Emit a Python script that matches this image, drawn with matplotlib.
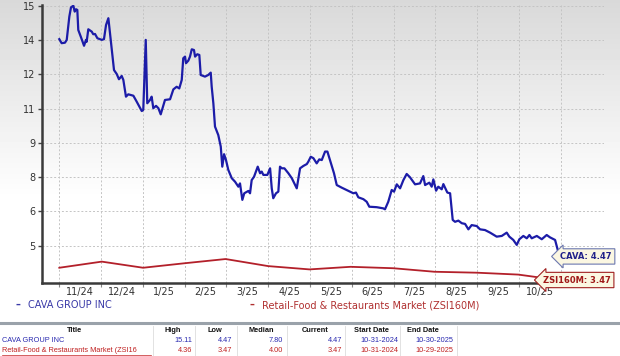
import numpy as np
import matplotlib
matplotlib.use("Agg")
import matplotlib.pyplot as plt

# CAVA P/S style series, x = days since 2024-10-31
cava_day = [0, 1.7, 4.1, 5.4, 7.3, 8.5, 10.2, 11.2, 12.2, 13.1, 13.8, 15.6, 18.0, 19.4, 19.9,
            21.1, 23.6, 24.7, 26.0, 27.7, 30.9, 32.5, 34.0, 35.7, 36.9, 39.8, 41.8, 43.4, 45.4,
            46.6, 48.5, 50.2, 53.9, 56.3, 60.0, 61.1, 62.9, 64.0, 66.0, 67.2, 68.4, 70.4, 72.1,
            73.8, 76.9, 80.6, 83.0, 85.4, 87.3, 89.1, 90.2, 91.5, 92.2, 93.9, 95.1, 96.4, 98.0,
            98.8, 100.4, 101.9, 102.9, 106.0, 108.4, 110.2, 110.9, 112.1, 113.3, 115.7, 117.5,
            118.6, 119.9, 121.3, 123.0, 125.5, 127.9, 130.3, 131.5, 133.2, 134.6, 137.6, 138.8,
            140.0, 141.7, 144.4, 146.1, 147.3, 148.5, 151.4, 153.4, 154.6, 155.7, 157.7, 159.4,
            160.6, 161.9, 163.8, 166.7, 169.2, 172.8, 175.2, 177.6, 180.1, 181.2, 183.0, 184.9,
            187.3, 189.2, 191.0, 193.4, 195.1, 197.0, 199.9, 201.9, 205.5, 211.6, 214.0, 215.9,
            217.6, 221.3, 223.7, 225.6, 231.0, 235.8, 237.0, 239.4, 241.9, 243.6, 245.6, 248.0,
            250.4, 252.8, 255.2, 258.9, 262.5, 264.9, 266.2, 269.3, 271.0, 272.2, 274.2, 275.8,
            278.3, 279.5, 282.4, 284.4, 286.3, 288.0, 290.4, 292.9, 295.3, 297.7, 300.1, 303.8,
            306.2, 309.8, 313.5, 318.3, 322.0, 325.6, 327.5, 330.4, 332.9, 334.8, 337.7, 340.2,
            342.1, 343.8, 347.5, 351.1, 354.7, 357.1, 360.8, 362.4, 364]
cava_val = [13.69, 13.52, 13.54, 13.66, 14.65, 15.04, 15.11, 14.86, 14.96, 14.93, 14.08, 13.80,
            13.41, 13.66, 13.58, 14.11, 14.01, 13.90, 13.91, 13.73, 13.66, 13.69, 14.29, 14.58,
            13.94, 12.38, 12.21, 11.99, 12.13, 11.96, 11.25, 11.35, 11.29, 11.04, 10.64, 10.69,
            13.66, 10.97, 11.11, 11.25, 10.76, 10.86, 10.76, 10.50, 11.11, 11.14, 11.56, 11.67,
            11.60, 11.96, 12.88, 12.95, 12.67, 12.78, 12.95, 13.26, 13.23, 12.95, 13.05, 13.02,
            12.17, 12.10, 12.17, 12.27, 11.67, 10.97, 9.98, 9.62, 9.13, 8.28, 8.81, 8.56, 8.14,
            7.79, 7.64, 7.43, 7.57, 6.87, 7.15, 7.25, 7.15, 7.71, 7.85, 8.28, 8.00, 8.07, 7.93,
            7.93, 8.21, 7.36, 6.94, 7.15, 7.22, 8.28, 8.21, 8.21, 8.00, 7.79, 7.36, 8.21, 8.31,
            8.39, 8.49, 8.70, 8.64, 8.42, 8.59, 8.56, 8.92, 8.92, 8.56, 8.00, 7.50, 7.39, 7.22,
            7.15, 7.18, 6.98, 6.90, 6.79, 6.58, 6.56, 6.51, 6.47, 6.79, 7.29, 7.22, 7.53, 7.36,
            7.71, 7.97, 7.83, 7.53, 7.57, 7.88, 7.50, 7.60, 7.43, 7.74, 7.26, 7.43, 7.32, 7.54,
            7.18, 7.15, 6.02, 5.94, 5.99, 5.88, 5.85, 5.62, 5.80, 5.76, 5.62, 5.59, 5.48, 5.31,
            5.34, 5.48, 5.31, 5.17, 4.96, 5.20, 5.34, 5.24, 5.38, 5.24, 5.34, 5.20, 5.38, 5.28,
            5.17, 4.82, 4.47]

# Retail-Food & Restaurants Market (ZSI160M), monthly
zsi_day = [0, 30.9, 61, 91, 121, 152, 182, 212, 243, 273, 304, 334, 363]
zsi_val = [3.99, 4.25, 3.99, 4.18, 4.36, 4.06, 3.92, 4.03, 3.97, 3.82, 3.78, 3.70, 3.47]

month_labels = ['11/24', '12/24', '1/25', '2/25', '3/25', '4/25', '5/25',
                '6/25', '7/25', '8/25', '9/25', '10/25']
y_tick_labels = ['5', '6', '8', '9', '11', '12', '14', '15']

table_cols = ['Title', 'High', 'Low', 'Median', 'Current', 'Start Date', 'End Date']
table_rows = [
    ['CAVA GROUP INC', '15.11', '4.47', '7.80', '4.47', '10-31-2024', '10-30-2025'],
    ['Retail-Food & Restaurants Market (ZSI16', '4.36', '3.47', '4.00', '3.47', '10-31-2024', '10-29-2025'],
]

BLUE = '#1c1ca8'
RED = '#b3202a'
W, H = 620, 356


def fx(x):
    return x / W


def fy(y):
    return 1 - y / H


fig = plt.figure(figsize=(6.2, 3.56), dpi=100)

# gradient background
bg = fig.add_axes([0, 0, 1, 1])
grad = np.ones((H, 2))
top = 200
grad[:top, :] = np.linspace(0.85, 1.0, top)[:, None]
bg.imshow(grad, cmap='gray', vmin=0, vmax=1, aspect='auto', extent=[0, 1, 0, 1])
bg.set_axis_off()

ax = fig.add_axes([fx(42), fy(283), fx(604) - fx(42), fy(5) - fy(283)])
ax.patch.set_alpha(0)

ax.plot(zsi_day, zsi_val, color=RED, lw=1.3, zorder=3)
ax.plot(cava_day, cava_val, color=BLUE, lw=1.6, zorder=4)

lo, hi = min(zsi_val), max(cava_val)
step = (hi - lo) / 8
yt = [lo + step * (k + 1) for k in range(8)]
ax.set_yticks(yt)
ax.set_yticklabels(y_tick_labels)
ax.set_ylim(3.343, 15.14)

mlen = 365 / 12
ax.set_xticks([k * mlen for k in range(13)])
ax.set_xticklabels([])
ax.set_xticks([(k + 0.5) * mlen for k in range(12)], minor=True)
ax.set_xticklabels(month_labels, minor=True)
ax.set_xlim(-12.6, 396.4)

ax.grid(True, which='major', color='#c4c4c4', ls=(0, (2, 2)), lw=0.7)
ax.tick_params(axis='y', length=3, width=1, color='#444444', labelsize=7,
               labelcolor='#333333', pad=2)
ax.tick_params(axis='x', which='major', length=3, width=0.8, color='#888888')
ax.tick_params(axis='x', which='minor', length=0, labelsize=7, labelcolor='#333333', pad=3)
for s in ['top', 'right']:
    ax.spines[s].set_visible(False)
for s in ['left', 'bottom']:
    ax.spines[s].set_color('#3a3a3a')
    ax.spines[s].set_linewidth(1.8)

# end-value labels
ax.text(364.5, 4.47, 'CAVA: 4.47', color='#22228a', fontsize=6, fontweight='bold',
        va='center', ha='left', clip_on=False, zorder=6,
        bbox=dict(boxstyle='larrow,pad=0.38', fc='#fbf7e2', ec='#6c78b0', lw=0.8))
ax.text(352, 3.47, 'ZSI160M: 3.47', color='#a01818', fontsize=6, fontweight='bold',
        va='center', ha='left', clip_on=False, zorder=6,
        bbox=dict(boxstyle='larrow,pad=0.38', fc='#fbf7e2', ec='#a02020', lw=0.8))

# legend
fig.text(fx(15), fy(305), '\u2013', color='#3a3aa8', fontsize=7, fontweight='bold', va='center')
fig.text(fx(28), fy(305), 'CAVA GROUP INC', color='#3a3aa8', fontsize=7, va='center')
fig.text(fx(250), fy(305), '\u2013', color='#b03030', fontsize=7, fontweight='bold', va='center')
fig.text(fx(262), fy(305), 'Retail-Food & Restaurants Market (ZSI160M)', color='#b03030',
         fontsize=7, va='center')

# separator
fig.add_artist(plt.Line2D([0, 1], [fy(323), fy(323)], color='#9aa2aa', lw=2.2))

# table
col_center = [75, 173, 215, 261, 315, 372, 423]
col_right = [None, 192, 232, 283, 342, 398, 453]
dividers = [153, 195, 237, 287, 345, 400, 457]
for xd in dividers:
    fig.add_artist(plt.Line2D([fx(xd), fx(xd)], [fy(326), fy(356)], color='#dddddd', lw=0.6))
for c, xc in zip(table_cols, col_center):
    fig.text(fx(xc), fy(331), c, fontsize=5.3, fontweight='bold', ha='center', va='center',
             family='Liberation Sans', color='#111111')
row_colors = ['#2a2ab0', '#c02020']
for r, (row, rc) in enumerate(zip(table_rows, row_colors)):
    yy = fy(340.5 + r * 10)
    fig.text(fx(2), yy, row[0], fontsize=5.3, ha='left', va='center',
             family='Liberation Sans', color=rc)
    if r == 1:
        fig.add_artist(plt.Line2D([fx(2), fx(151)], [fy(355), fy(355)], color=rc, lw=0.5))
    for val, xr in zip(row[1:], col_right[1:]):
        fig.text(fx(xr), yy, val, fontsize=5.3, ha='right', va='center',
                 family='Liberation Sans', color=rc)

fig.savefig('out.png', dpi=100)
